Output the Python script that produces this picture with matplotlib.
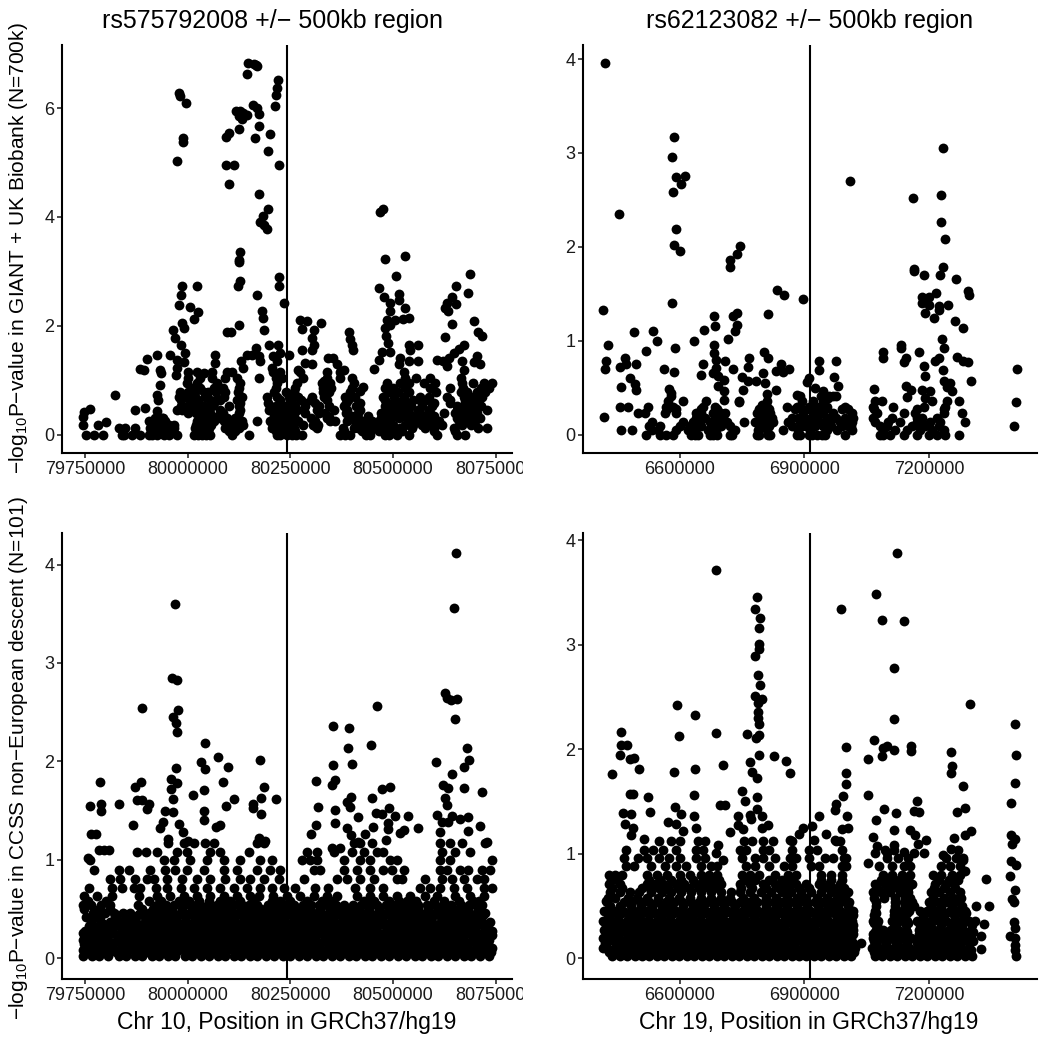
import matplotlib
matplotlib.use("Agg")
import matplotlib.pyplot as plt
from matplotlib.transforms import Bbox

plt.rcParams['font.family'] = ['Liberation Sans', 'DejaVu Sans']
plt.rcParams['mathtext.default'] = 'regular'
plt.rcParams['mathtext.fontset'] = 'custom'
plt.rcParams['mathtext.rm'] = 'Liberation Sans'

# positions in kb, values are -log10 P
titles = ["rs575792008 +/\u2212 500kb region", "rs62123082 +/\u2212 500kb region"]
xlabels = ["Chr 10, Position in GRCh37/hg19", "Chr 19, Position in GRCh37/hg19"]
ylabels = ["\u2212$log_{10}$P\u2212value in GIANT + UK Biobank (N=700k)",
           "\u2212$log_{10}$P\u2212value in CCSS non\u2212European descent (N=101)"]
chr10_ticks = [79750000, 80000000, 80250000, 80500000, 80750000]
chr19_ticks = [6600000, 6900000, 7200000]
chr10_snp = 80243000
chr19_snp = 6914000

a_pts = [(80146,6.83),(80161,6.82),(80170,6.77),(80167,6.80),(80144,6.63),(80221,6.52),(80218,6.37),(80216,6.25),(80213,6.03),
(79978,6.28),(79982,6.22),(79997,6.09),(80118,5.94),(80128,5.94),(80136,5.91),(80124,5.85),(80132,5.80),(80144,5.88),(80159,6.05),
(80170,6.01),(80175,5.90),(80174,5.68),(80126,5.62),(80100,5.55),(80094,5.47),(80165,5.46),(80200,5.52),(80195,5.22),(79989,5.45),
(79989,5.37),(79973,5.02),(80093,4.96),(80114,4.96),(80223,4.96),(80101,4.60),(80175,4.42),(80196,4.15),(80183,4.01),(80177,3.90),
(80185,3.86),(80193,3.77),(80127,3.36),(80126,3.21),(80126,3.17),(80127,2.82),(80123,2.73),(80223,2.89),(80222,2.74),(80168,2.57),
(80234,2.42),(79986,2.74),(80023,2.74),(79983,2.57),(79980,2.39),(80006,2.34),(80026,2.25),(80016,2.12),(80181,2.27),(80184,2.14),
(79986,2.06),(79990,1.96),(79964,1.92),(80126,2.01),(80095,1.89),(80106,1.89),(80187,1.92),(79970,1.78),(79984,1.64),(80167,1.60),
(80199,1.65),(80219,1.64),(80274,2.11),(80291,2.08),(80325,2.06),(80278,1.94),(80307,1.93),(80303,1.78),(80307,1.65),(80278,1.56),
(80303,1.56),(80248,1.47),(80286,1.32),(80303,1.30),(80270,1.18),(80475,4.15),(80469,4.10),(80481,3.23),(80529,3.28),(80507,2.92),
(80687,2.95),(80467,2.69),(80653,2.73),(80684,2.61),(80478,2.53),(80514,2.59),(80516,2.48),(80645,2.53),(80632,2.42),(80654,2.40),
(80494,2.42),(80628,2.33),(80530,2.33),(80494,2.27),(80634,2.27),(80485,2.11),(80505,2.11),(80524,2.12),(80540,2.14),(80494,2.02),
(80481,1.96),(80698,2.09),(80645,2.03),(80708,1.88),(80717,1.82),(80627,1.79),(80484,1.81),(80487,1.68),(80392,1.88),(80396,1.75),
(80400,1.65),(80402,1.56),(80538,1.65),(80562,1.65),(80494,1.51),(80473,1.51),(80672,1.64),(80660,1.57),(80648,1.50),(80636,1.41),
(80705,1.44),(80607,1.38),(80623,1.35),(80631,1.26),(80668,1.35),(80698,1.33),(80711,1.30),(80672,1.19),(80542,1.56),(80518,1.41),
(80514,1.29),(80562,1.35),(80538,1.35),(80465,1.38),(80453,1.21),(80355,1.41),(80343,1.41),(79925,1.47),(79902,1.39),(79883,1.21),
(79893,1.19),(79933,1.19),(79935,1.13),(79932,0.92),(79925,0.73),(79929,0.63),(79822,0.72),(79897,0.49),(79871,0.46),(79763,0.47),
(79747,0.41),(79744,0.32),(79744,0.18),(79781,0.18),(79802,0.23),(80067,1.47),(80067,1.32),(80130,1.35),(80145,1.47),(80157,1.47),
(80173,1.44),(80136,1.22),(80177,1.35),(80209,1.44),(80226,1.50),(80217,1.35),(80205,1.22),(79958,1.47),(79974,1.38),(79994,1.50),
(79990,1.33),(79974,1.22),(79972,1.10),(80039,1.13),(80380,1.19),(80364,1.29),(80331,0.98),(80400,1.04),(80175,1.04),(80428,0.88),
(80420,0.80),(80345,0.32),(80335,0.40),(80310,0.15),(79925,0.43),(79940,0.30),(80075,0.35)]
a_row_y = [0.0, 0.06, 0.12, 0.18, 0.25, 0.30, 0.35, 0.40, 0.46, 0.52, 0.58, 0.64, 0.70, 0.78, 0.85, 0.95, 1.05, 1.15]
a_row_x = [
[79753,79771,79795,79840,79845,79864,79885,79905,79913,79925,79942,79955,79974,80015,80025,80035,80045,80055,80108,80149,80217,80225,80242,80255,80265,80278,80372,80384,80395,80435,80445,80481,80490,80510,80538,80607,80656,80676],
[79910,79930,79948,79962,80022,80030,80050,80100,80115,80215,80232,80248,80262,80380,80425,80445,80465,80500,80522,80600,80650],
[79832,79848,79873,79909,79925,79950,79966,80019,80039,80051,80092,80112,80124,80205,80226,80258,80315,80378,80404,80416,80437,80457,80485,80518,80546,80579,80599,80648,80708,80729],
[79915,79928,79942,79955,79968,80020,80035,80058,80098,80118,80135,80208,80228,80240,80282,80305,80318,80410,80420,80440,80452,80475,80500,80530,80550,80570,80595,80620,80668,80690],
[79905,79917,79933,79946,80023,80047,80063,80088,80104,80120,80132,80169,80201,80217,80250,80270,80311,80347,80360,80388,80408,80429,80449,80465,80489,80542,80558,80583,80611,80660,80684,80700],
[79920,79938,80030,80055,80078,80095,80115,80212,80228,80242,80255,80300,80340,80395,80415,80440,80470,80495,80515,80535,80552,80575,80600,80655,80672,80695,80712],
[80035,80210,80235,80260,80400,80440,80475,80500,80525,80555,80580,80600,80660,80690],
[80000,80020,80055,80085,80125,80218,80240,80260,80285,80320,80385,80415,80470,80492,80515,80540,80565,80590,80625,80650,80680,80705],
[79974,79986,80006,80027,80047,80080,80128,80197,80226,80246,80266,80315,80356,80388,80420,80485,80510,80534,80562,80587,80656,80676,80700,80729],
[79985,80000,80015,80040,80060,80100,80125,80200,80215,80240,80262,80285,80320,80345,80380,80410,80480,80500,80520,80545,80570,80595,80655,80685,80715],
[80025,80065,80128,80195,80225,80255,80285,80310,80385,80420,80485,80510,80535,80570,80600,80640,80675,80700],
[79985,80005,80025,80055,80070,80080,80120,80225,80250,80275,80300,80340,80390,80480,80505,80525,80550,80565,80580,80640,80675,80695,80710],
[79978,79998,80019,80043,80088,80132,80193,80217,80246,80270,80303,80331,80384,80408,80477,80502,80526,80567,80587,80631,80672,80692,80717],
[79982,80002,80018,80040,80050,80070,80090,80122,80210,80240,80260,80330,80345,80395,80490,80512,80540,80605,80665,80680,80705,80725],
[80010,80030,80065,80085,80125,80215,80262,80330,80350,80400,80480,80500,80530,80590,80640,80670,80715,80735],
[79998,80023,80071,80128,80217,80266,80327,80347,80404,80485,80518,80538,80575,80603,80668,80696,80721,80741],
[80000,80030,80060,80090,80120,80215,80230,80280,80340,80370,80530,80555,80590,80665],
[80002,80024,80059,80096,80108,80209,80226,80274,80339,80372,80526],
]

b_pts = [(6419,3.96),(6586,3.17),(6581,2.96),(6592,2.74),(6612,2.75),(6604,2.67),(6583,2.58),(6454,2.35),(6590,2.19),(6585,2.02),
(6600,1.96),(6745,2.01),(6738,1.92),(6721,1.86),(6721,1.79),(7011,2.70),(7162,2.52),(7233,3.05),(7229,2.55),(7229,2.26),(7238,2.08),
(7233,1.79),(7227,1.70),(7163,1.76),(7163,1.74),(7189,1.70),(7265,1.66),(7295,1.53),(7297,1.49),(7217,1.51),(7183,1.47),(7201,1.47),
(7191,1.44),(7183,1.40),(7199,1.38),(7223,1.37),(7245,1.38),(7225,1.33),(7191,1.30),(7211,1.24),(7262,1.21),(7283,1.14),(6833,1.54),
(6851,1.49),(6897,1.44),(6582,1.40),(6416,1.33),(6812,1.29),(6738,1.30),(6727,1.26),(6682,1.26),(6684,1.16),(6737,1.17),(6733,1.10),
(6659,1.11),(6490,1.09),(6536,1.10),(6544,1.00),(6635,1.00),(6717,1.02),(6427,0.96),(6683,0.96),(6588,0.92),(6518,0.89),(6423,0.79),
(6467,0.82),(6419,0.70),(6455,0.72),(6471,0.75),(6494,0.75),(6561,0.70),(6586,0.67),(6656,0.75),(6650,0.64),(6683,0.87),(6687,0.80),
(6709,0.78),(6687,0.71),(6729,0.70),(6680,0.66),(6692,0.62),(6706,0.58),(6692,0.52),(6706,0.46),(6707,0.37),(6767,0.82),(6765,0.72),
(6803,0.88),(6813,0.82),(6843,0.75),(6832,0.68),(6849,0.67),(6864,0.70),(6800,0.66),(6750,0.61),(6764,0.57),(6784,0.57),(6805,0.55),
(6753,0.48),(6809,0.43),(6832,0.48),(6742,0.35),(6797,0.32),(6809,0.30),(6881,0.42),(6934,0.79),(6975,0.79),(6936,0.69),(6972,0.61),
(6980,0.52),(6912,0.60),(6907,0.56),(6926,0.50),(6946,0.47),(6970,0.41),(6958,0.39),(7412,0.70),(7410,0.35),(7405,0.09),(6417,0.19),
(6459,0.51),(6481,0.60),(6491,0.54),(6495,0.48),(6574,0.49),(6579,0.44),(7089,0.88),(7089,0.82),(7133,0.96),(7133,0.92),(7145,0.82),
(7140,0.77),(7177,0.88),(7231,1.02),(7235,0.92),(7225,0.82),(7215,0.78),(7267,0.83),(7282,0.79),(7293,0.77),(7189,0.73),(7234,0.69),
(7191,0.62),(7302,0.57),(7235,0.57),(7251,0.55),(7243,0.51),(7068,0.49),(7145,0.52),(7156,0.48),(7183,0.48),(7203,0.46),(7255,0.46),
(7148,0.40),(7191,0.39)]
b_row_y = [0.0, 0.05, 0.09, 0.14, 0.18, 0.23, 0.27, 0.30, 0.355, 0.41]
b_row_x = [
[6518,6552,6568,6584,6628,6636,6644,6672,6680,6690,6720,6725,6785,6790,6812,6817,6881,6890,6910,6918,6930,6942,6950,6998,7082,7090,7107,7139,7171,7199,7219,7239,7273],
[6459,6486,6532,6548,6592,6620,6636,6668,6688,6733,6789,6809,6848,6885,6914,6954,6978,7014,7090,7119,7147,7179,7207,7235],
[6525,6552,6600,6625,6650,6680,6700,6720,6795,6815,6870,6895,6905,6925,6945,6965,6990,7005,7012,7082,7100,7160,7175,7190,7225],
[6532,6608,6632,6644,6672,6692,6713,6754,6781,6809,6825,6861,6889,6906,6922,6938,6962,6986,7014,7070,7102,7131,7171,7203,7227,7287],
[6640,6660,6685,6705,6795,6805,6822,6870,6885,6900,6915,6930,6955,6975,6998,7018,7065,7110,7170,7182,7220],
[6500,6516,6564,6592,6640,6650,6680,6700,6709,6785,6805,6817,6897,6922,6946,6970,7014,7074,7139,7167,7235,7279],
[6570,6590,6650,6690,6790,6800,6815,6878,6895,6912,6930,6950,6990,7005,7068,7170,7235],
[6455,6475,6524,6568,6584,6656,6684,6797,6857,6881,6910,6934,6954,6998,7066,7113,7187,7239],
[6572,6608,6664,6743,6809,6895,6920,6945,7070,7086,7207,7243,7273],
[6580,6890,6940,6960,6975],
]

c_pts = [(80653,4.12),(80649,3.56),(79969,3.60),(79962,2.85),(79974,2.83),(79890,2.54),(79976,2.52),(79964,2.45),(79972,2.39),(79974,2.30),
(80626,2.69),(80632,2.64),(80642,2.62),(80657,2.63),(80651,2.43),(80461,2.56),(80353,2.36),(80392,2.34),(80446,2.17),(80391,2.14),
(80043,2.19),(80075,2.04),(80032,1.99),(80043,1.92),(80099,1.94),(80176,2.01),(79971,1.93),(79960,1.82),(79974,1.78),(79960,1.72),
(79964,1.62),(79787,1.79),(79886,1.79),(79872,1.74),(79877,1.61),(79889,1.61),(79905,1.57),(79901,1.52),(79761,1.55),(79789,1.57),
(79789,1.50),(79834,1.57),(79867,1.35),(79946,1.50),(79964,1.49),(79940,1.38),(79933,1.32),(79978,1.36),(79989,1.28),(79952,1.21),
(80002,1.19),(80013,1.66),(80041,1.71),(80085,1.79),(80114,1.62),(80093,1.55),(80041,1.50),(80039,1.41),(80080,1.35),(80070,1.33),
(80185,1.74),(80179,1.63),(80159,1.57),(80158,1.53),(80178,1.47),(80215,1.62),(80173,1.22),(80188,1.19),(80354,1.96),(80400,1.97),
(80680,2.14),(80685,2.01),(80674,1.94),(80604,1.99),(80312,1.80),(80360,1.81),(80351,1.76),(80644,1.87),(80623,1.76),(80635,1.73),
(80473,1.72),(80492,1.74),(80672,1.73),(80718,1.69),(80398,1.64),(80388,1.59),(80450,1.63),(80396,1.54),(80317,1.54),(80358,1.51),
(80626,1.63),(80632,1.56),(80416,1.44),(80459,1.48),(80491,1.53),(80474,1.47),(80505,1.45),(80537,1.45),(80607,1.46),(80645,1.45),
(80684,1.44),(80664,1.42),(80360,1.37),(80313,1.35),(80301,1.26),(80388,1.32),(80398,1.25),(80451,1.33),(80487,1.37),(80489,1.31),
(80560,1.32),(80526,1.30),(80518,1.27),(80713,1.34),(80619,1.38),(80635,1.38),(80684,1.29),(80614,1.28),(80730,1.18),(80433,1.26),
(80482,1.20),(80416,1.18),(80351,1.12),(80372,1.12),(79783,1.10),(79796,1.10),(79808,1.10),(79765,1.26),(79777,1.26),(79758,1.02)]
c_row_y = [0.02, 0.06, 0.08, 0.10, 0.15, 0.17, 0.19, 0.24, 0.26, 0.28, 0.33, 0.35, 0.37, 0.42, 0.44, 0.46, 0.50, 0.54, 0.58, 0.63, 0.71, 0.81, 0.90, 1.0, 1.08, 1.17]
c_row_x = [
[79745,79768,79785,79806,79832,79850,79872,79890,79912,79930,79952,79970,79993,80010,80032,80051,80073,80090,80112,80131,80153,80170,80192,80210,80232,80250,80272,80291,80313,80330,80352,80371,80393,80410,80432,80450,80472,80490,80512,80531,80553,80570,80592,80610,80632,80650,80672,80691,80713,80735],
[79756,79779,79803,79826,79851,79875,79899,79922,79947,79971,79996,80019,80043,80067,80092,80115,80139,80164,80187,80212,80236,80259,80283,80308,80332,80355,80380,80403,80428,80451,80476,80499,80523,80548,80571,80596,80619,80644,80667,80692,80716,80739],
[79746,79765,79788,79810,79836,79856,79886,79906,79927,79955,79977,80005,80026,80047,80076,80097,80125,80147,80174,80196,80217,80246,80267,80295,80316,80345,80366,80387,80415,80436,80465,80486,80507,80536,80557,80585,80606,80635,80656,80677,80707,80728],
[79752,79775,79796,79815,79841,79860,79880,79901,79921,79941,79961,79982,80001,80021,80041,80062,80082,80101,80121,80142,80161,80181,80201,80221,80241,80261,80282,80302,80321,80341,80361,80382,80401,80421,80441,80461,80481,80501,80521,80542,80561,80581,80601,80621,80641,80661,80681,80702,80722,80742],
[79748,79771,79794,79819,79843,79867,79891,79916,79939,79964,79987,80012,80035,80060,80083,80108,80131,80156,80179,80204,80227,80252,80275,80300,80323,80348,80371,80396,80419,80444,80467,80492,80515,80540,80563,80588,80611,80636,80659,80684,80707,80732],
[79758,79782,79802,79824,79846,79858,79883,79906,79928,79957,79977,80004,80026,80049,80075,80097,80124,80146,80168,80197,80218,80243,80267,80292,80315,80339,80364,80388,80413,80434,80459,80483,80506,80531,80555,80579,80603,80627,80650,80676,80699,80724],
[79744,79764,79786,79807,79830,79851,79870,79892,79911,79932,79951,79972,79991,80012,80031,80052,80071,80092,80111,80132,80151,80172,80191,80212,80231,80252,80271,80292,80311,80332,80351,80372,80391,80412,80431,80452,80471,80492,80511,80532,80551,80572,80591,80612,80631,80652,80671,80692,80711,80733],
[79755,79780,79805,79828,79853,79876,79901,79925,79949,79973,79997,80021,80045,80069,80093,80117,80141,80165,80189,80213,80237,80261,80285,80309,80333,80357,80381,80405,80429,80453,80477,80501,80525,80549,80573,80597,80621,80645,80669,80693,80717,80741],
[79746,79770,79791,79817,79838,79865,79888,79912,79936,79960,79984,80008,80032,80056,80080,80104,80128,80152,80176,80200,80224,80248,80272,80296,80320,80344,80368,80392,80416,80440,80464,80488,80512,80536,80560,80584,80608,80632,80656,80680,80704,80728],
[79750,79772,79795,79816,79842,79861,79881,79902,79922,79942,79962,79981,80002,80022,80042,80061,80081,80102,80122,80141,80162,80182,80202,80222,80242,80262,80281,80301,80322,80342,80362,80381,80402,80422,80442,80462,80482,80502,80522,80541,80562,80582,80602,80622,80642,80662,80682,80701,80721,80741],
[79760,79785,79809,79833,79857,79883,79907,79931,79955,79979,80003,80027,80051,80075,80099,80123,80147,80171,80195,80219,80243,80267,80291,80315,80339,80363,80387,80411,80435,80459,80483,80507,80531,80555,80579,80603,80627,80651,80675,80699,80723],
[79768,79795,79820,79846,79872,79894,79918,79944,79966,79988,80012,80040,80062,80088,80110,80136,80158,80182,80208,80230,80254,80278,80302,80326,80348,80372,80398,80422,80446,80470,80494,80518,80542,80566,80590,80614,80638,80662,80686,80710,80732],
[79765,79790,79812,79835,79856,79875,79895,79915,79935,79955,79975,79996,80015,80035,80056,80076,80095,80115,80135,80155,80176,80195,80215,80236,80256,80275,80295,80316,80336,80356,80375,80396,80416,80436,80456,80475,80495,80516,80535,80556,80576,80595,80616,80636,80656,80676,80696,80716,80736],
[79752,79777,79824,79849,79873,79897,79921,79945,79969,79993,80017,80041,80065,80089,80113,80137,80161,80185,80209,80233,80257,80281,80305,80329,80353,80377,80401,80425,80449,80473,80497,80521,80545,80569,80593,80617,80641,80665,80689,80713],
[79772,79790,79828,79855,79880,79903,79928,79952,79976,80000,80024,80048,80072,80096,80120,80144,80168,80192,80216,80240,80264,80288,80312,80336,80360,80384,80408,80432,80456,80480,80504,80528,80552,80576,80600,80624,80648,80672,80696,80720],
[79770,79798,79820,79842,79860,79884,79905,79925,79945,79965,79985,80005,80025,80045,80065,80085,80105,80125,80145,80165,80185,80205,80225,80245,80265,80285,80305,80325,80345,80365,80385,80405,80425,80445,80465,80485,80505,80525,80545,80565,80585,80605,80625,80645,80665,80685,80705,80725],
[79748,79785,79812,79890,79915,79938,79962,79986,80010,80034,80058,80082,80106,80130,80154,80178,80202,80226,80250,80274,80298,80322,80346,80370,80394,80418,80442,80466,80490,80514,80538,80562,80586,80610,80634,80658,80682,80706],
[79745,79765,79790,79810,79880,79925,79948,79968,79990,80010,80030,80050,80072,80092,80112,80132,80150,80170,80195,80215,80238,80258,80280,80300,80320,80340,80362,80382,80402,80422,80442,80462,80482,80502,80522,80542,80562,80582,80602,80622,80642,80665,80685,80702,80718],
[79758,79800,79905,79935,79978,80003,80028,80052,80078,80102,80127,80160,80205,80226,80250,80290,80328,80352,80430,80455,80490,80515,80535,80555,80600,80625,80660,80695,80710],
[79747,79779,79816,79881,79925,79958,79990,80023,80055,80088,80120,80153,80173,80209,80242,80274,80307,80339,80364,80412,80445,80477,80510,80542,80579,80607,80652,80688,80721],
[79759,79816,79841,79869,79885,79922,79950,79983,80015,80047,80080,80112,80145,80177,80205,80234,80262,80311,80343,80408,80445,80477,80566,80590,80615,80648,80680,80721,80741],
[79812,79836,79873,79901,79917,79950,79986,80023,80055,80092,80128,80153,80185,80222,80283,80364,80388,80420,80453,80510,80522,80579,80619,80644,80672,80705,80721],
[79772,79832,79858,79908,79945,79970,79998,80039,80088,80120,80169,80201,80226,80307,80323,80380,80412,80445,80477,80497,80526,80615,80631,80664,80684,80717,80737],
[79761,79942,79966,80006,80047,80088,80128,80177,80205,80278,80299,80315,80380,80420,80445,80493,80510,80615,80640,80741],
[79877,79899,79925,79974,79998,80055,80080,80149,80291,80315,80356,80400,80429,80461,80477,80619,80652,80688],
[79952,79990,80015,80043,80063,80169,80185,80404,80420,80449,80615,80640,80668,80725],
]

d_pts = [(7122,3.88),(6686,3.72),(7072,3.49),(6787,3.46),(6989,3.34),(6780,3.34),(6793,3.26),(7088,3.24),(7141,3.23),(6790,3.16),(6790,3.01),
(6790,2.96),(6781,2.89),(7116,2.78),(6789,2.71),(6793,2.62),(6782,2.51),(6797,2.48),(6789,2.44),(7299,2.43),(6594,2.42),(6637,2.33),
(6789,2.36),(6789,2.30),(7115,2.29),(6791,2.24),(7406,2.24),(6459,2.17),(6686,2.16),(6761,2.15),(6598,2.13),(6790,2.14),(6783,2.11),
(6459,2.04),(6474,2.04),(7067,2.09),(7098,2.03),(7090,2.01),(7000,2.02),(7156,2.03),(7156,1.98),(7253,1.97),(7115,1.99),(6457,1.95),
(6790,1.95),(7410,1.95),(7086,1.94),(6490,1.92),(6479,1.91),(7054,1.91),(6828,1.94),(6856,1.89),(6769,1.88),(6502,1.81),(6636,1.81),
(6586,1.78),(6705,1.85),(7256,1.84),(7253,1.77),(6437,1.76),(6773,1.78),(6865,1.77),(6787,1.73),(7000,1.77),(6999,1.67),(7407,1.68),
(7283,1.65),(6750,1.60),(6479,1.57),(6487,1.57),(6634,1.56),(6524,1.54),(6757,1.51),(6787,1.54),(6994,1.55),(7054,1.56),(7172,1.51),
(7398,1.49),(6696,1.47),(6708,1.47),(6976,1.48),(6974,1.42),(7092,1.43),(7287,1.44),(6588,1.45),(6463,1.39),(6483,1.38),(6528,1.40),
(6785,1.43),(6770,1.37),(6604,1.38),(6634,1.36),(6739,1.36),(6934,1.36),(7002,1.36),(7120,1.39),(7164,1.41),(7175,1.40),(7267,1.40),
(6799,1.36),(7073,1.32),(6467,1.29),(6572,1.30),(6592,1.29),(6771,1.33),(6741,1.28),(6813,1.28),(6919,1.27),(6897,1.25),(7006,1.25),
(6990,1.24),(6487,1.25),(6753,1.24),(6799,1.25),(6639,1.25),(7115,1.23),(7155,1.23),(7301,1.22),(6608,1.22),(6721,1.21),(6888,1.19),
(6951,1.19),(6483,1.18),(7167,1.18),(7287,1.18),(7398,1.18),(7065,1.16),(6513,1.14),(7261,1.15),(7193,1.13),(7406,1.14),(6974,1.13),
(6865,1.13),(6922,1.13),(7400,1.09),(6691,1.08),(7115,1.08),(7173,1.09),(7074,1.07),(7254,1.05),(7139,1.02),(7163,1.01),(7187,1.01),
(6688,1.01),(7070,1.01),(7234,0.99),(7098,1.01),(7398,0.93),(7409,0.89),(7053,0.91),(7283,0.94),(7287,0.84),(6703,0.94),(7396,0.79),
(7338,0.76),(7408,0.65),(7400,0.57),(7404,0.54),(7312,0.50),(7344,0.50),(7332,0.33),(7324,0.21),(7326,0.09),(7036,0.15),(7405,0.35),
(7406,0.29),(7394,0.21),(7406,0.19),(7406,0.13),(7407,0.08),(7409,0.02),(6415,0.10),(6423,0.55)]
d_row_y = [0.02, 0.06, 0.08, 0.10, 0.15, 0.17, 0.19, 0.23, 0.25, 0.27, 0.32, 0.34, 0.36, 0.41, 0.43, 0.45, 0.50, 0.54, 0.58, 0.63, 0.67, 0.71, 0.75, 0.80, 0.88, 0.96, 1.04, 1.12]
d_row_x = [
[6437,6455,6473,6491,6509,6527,6545,6563,6581,6599,6617,6635,6653,6671,6689,6707,6725,6743,6761,6779,6797,6815,6833,6851,6869,6887,6905,6923,6941,6959,6977,6995,7013,7070,7088,7106,7124,7142,7160,7178,7196,7214,7232,7250,7268,7286,7304],
[6430,6452,6478,6503,6528,6553,6578,6603,6628,6653,6678,6703,6728,6753,6778,6803,6828,6853,6878,6903,6928,6953,6978,7003,7020,7067,7092,7117,7142,7167,7192,7217,7242,7267,7292],
[6434,6458,6484,6511,6535,6559,6584,6611,6635,6659,6684,6711,6735,6759,6784,6811,6835,6859,6884,6911,6935,6959,6984,7010,7075,7100,7128,7150,7175,7200,7225,7250,7275,7300],
[6424,6444,6462,6480,6500,6518,6536,6554,6572,6590,6608,6626,6644,6662,6680,6698,6716,6734,6752,6770,6788,6806,6824,6842,6860,6878,6896,6914,6932,6950,6968,6986,7004,7022,7062,7080,7098,7116,7134,7152,7170,7188,7206,7224,7242,7260,7278,7296],
[6421,6447,6471,6496,6521,6546,6571,6596,6621,6646,6671,6696,6721,6746,6771,6796,6821,6846,6871,6896,6921,6946,6971,6996,7018,7072,7097,7122,7147,7172,7197,7222,7247,7272,7297],
[6428,6456,6480,6506,6530,6556,6580,6606,6630,6656,6680,6706,6730,6756,6780,6806,6830,6856,6880,6906,6930,6956,6980,7006,7068,7094,7118,7144,7180,7204,7230,7254,7280,7305],
[6416,6434,6452,6472,6490,6508,6526,6544,6562,6580,6598,6616,6634,6652,6670,6688,6706,6724,6742,6760,6778,6796,6814,6832,6850,6868,6886,6904,6922,6940,6958,6976,6994,7012,7066,7084,7102,7120,7138,7156,7174,7192,7210,7228,7246,7264,7282,7300],
[6426,6450,6475,6500,6525,6550,6575,6600,6625,6650,6675,6700,6725,6750,6775,6800,6825,6850,6875,6900,6925,6950,6975,7000,7016,7064,7090,7115,7140,7176,7201,7226,7251,7276,7301],
[6432,6459,6485,6510,6534,6560,6585,6610,6634,6660,6685,6710,6734,6760,6785,6810,6834,6860,6885,6910,6934,6960,6985,7012,7070,7096,7122,7148,7184,7208,7234,7258,7284,7306],
[6418,6440,6458,6476,6494,6512,6530,6548,6566,6584,6602,6620,6638,6656,6674,6692,6710,6728,6746,6764,6782,6800,6818,6836,6854,6872,6890,6908,6926,6944,6962,6980,6998,7018,7072,7090,7108,7126,7144,7175,7193,7211,7229,7247,7265,7283,7301],
[6423,6448,6473,6498,6523,6548,6573,6598,6623,6648,6673,6698,6723,6748,6773,6798,6823,6848,6873,6898,6923,6948,6973,6998,7016,7075,7120,7145,7178,7203,7228,7253,7278,7303],
[6430,6456,6482,6506,6530,6556,6582,6606,6630,6656,6682,6706,6730,6756,6782,6806,6830,6856,6882,6906,6930,6956,6982,7008,7068,7116,7150,7182,7206,7232,7256,7282,7300],
[6416,6436,6454,6472,6490,6508,6526,6544,6562,6580,6598,6616,6634,6652,6670,6688,6706,6724,6742,6760,6778,6796,6814,6832,6850,6868,6886,6904,6922,6940,6958,6976,6994,7014,7066,7078,7110,7128,7146,7170,7188,7206,7224,7242,7260,7278,7296,7310],
[6427,6452,6477,6502,6527,6552,6577,6602,6627,6652,6677,6702,6727,6752,6777,6802,6827,6852,6877,6902,6927,6952,6977,7002,7016,7068,7115,7140,7185,7210,7235,7260,7285],
[6434,6460,6486,6510,6536,6560,6586,6610,6636,6660,6686,6710,6736,6760,6786,6810,6836,6860,6886,6910,6936,6960,6986,7010,7072,7122,7148,7192,7216,7242,7268,7290],
[6418,6446,6464,6482,6500,6518,6536,6554,6572,6590,6608,6626,6644,6662,6680,6698,6716,6734,6752,6770,6788,6806,6824,6842,6860,6878,6896,6914,6932,6950,6968,6986,7004,7018,7070,7116,7134,7152,7178,7196,7214,7232,7250,7268,7286],
[6432,6457,6482,6507,6532,6557,6582,6607,6632,6657,6682,6707,6732,6757,6782,6807,6832,6857,6882,6907,6932,6957,6982,7005,7072,7118,7143,7165,7205,7230,7255,7280],
[6425,6466,6486,6506,6526,6546,6566,6586,6606,6626,6646,6666,6686,6706,6726,6746,6766,6786,6806,6826,6846,6866,6886,6906,6926,6946,6966,6986,7008,7072,7118,7140,7160,7200,7222,7240,7262],
[6428,6445,6475,6498,6520,6548,6573,6598,6625,6650,6675,6700,6722,6752,6778,6808,6832,6858,6882,6905,6930,6955,6978,6998,7068,7092,7118,7142,7155,7210,7235,7258,7278],
[6431,6455,6480,6503,6531,6556,6580,6604,6628,6652,6676,6700,6724,6745,6770,6795,6820,6845,6868,6892,6916,6940,6965,6985,7005,7065,7085,7105,7130,7150,7205,7225,7250,7275],
[6436,6460,6510,6528,6550,6572,6596,6622,6646,6670,6692,6748,6775,6808,6838,6862,6888,6912,6945,6970,6995,7075,7102,7125,7150,7212,7235,7262],
[6430,6455,6520,6540,6560,6590,6610,6640,6660,6680,6700,6745,6770,6800,6830,6855,6880,6905,6935,6960,6985,7070,7095,7115,7140,7160,7215,7240,7260],
[6435,6450,6525,6552,6578,6602,6632,6655,6678,6695,6755,6780,6815,6845,6870,6940,6965,6990,7085,7105,7128,7150,7225,7248,7270],
[6430,6445,6460,6520,6545,6570,6600,6625,6650,6670,6690,6750,6770,6790,6830,6860,6880,6940,6965,6990,7090,7110,7135,7155,7210,7230,7255,7275],
[6470,6490,6530,6565,6590,6615,6650,6675,6690,6760,6780,6815,6850,6870,6915,6935,6990,7000,7080,7110,7140,7155,7230,7250,7275],
[6465,6500,6520,6550,6575,6600,6640,6660,6750,6780,6800,6830,6865,6880,6910,6950,6970,6995,7000,7100,7125,7150,7240,7265,7282],
[6470,6515,6535,6560,6590,6640,6655,6745,6760,6800,6815,6870,6910,6930,6990,7095,7115,7270],
[6550,6580,6600,6645,6660,6755,6775,6800,6825,6870,6975,6985],
]


def collect(pts, row_y, row_x):
    xs = [p[0] * 1000 for p in pts]
    ys = [p[1] for p in pts]
    for y, row in zip(row_y, row_x):
        xs += [v * 1000 for v in row]
        ys += [y] * len(row)
    return xs, ys


W, H = 1044, 1043
fig = plt.figure(figsize=(W / 100, H / 100), dpi=100)


def panel(left, right, top, bottom, pts, row_y, row_x, snp, xticks, yticks, xlim, ylim):
    ax = fig.add_axes([left / W, 1 - bottom / H, (right - left) / W, (bottom - top) / H])
    xs, ys = collect(pts, row_y, row_x)
    ax.scatter(xs, ys, s=50, color="black", linewidths=0, zorder=2)
    ax.axvline(snp, color="black", linewidth=1.5, zorder=3)
    ax.set_xlim(xlim)
    ax.set_ylim(ylim)
    ax.set_xticks(xticks)
    ax.set_xticklabels([str(t) for t in xticks])
    ax.set_yticks(yticks)
    ax.spines["top"].set_visible(False)
    ax.spines["right"].set_visible(False)
    ax.spines["left"].set_linewidth(1.5)
    ax.spines["bottom"].set_linewidth(1.5)
    ax.tick_params(length=3.5, width=1.1, labelsize=13, colors="#1a1a1a", pad=2)
    return ax


ax_a = panel(62, 512, 45, 453, a_pts, a_row_y, a_row_x, chr10_snp, chr10_ticks, [0, 2, 4, 6],
             (79694000, 80790000), (-0.337, 7.16))
ax_b = panel(583, 1037, 45, 453, b_pts, b_row_y, b_row_x, chr19_snp, chr19_ticks, [0, 1, 2, 3, 4],
             (6367000, 7460000), (-0.195, 4.15))
ax_c = panel(62, 512, 533, 979, c_pts, c_row_y, c_row_x, chr10_snp, chr10_ticks, [0, 1, 2, 3, 4],
             (79694000, 80790000), (-0.21, 4.32))
ax_d = panel(583, 1037, 533, 979, d_pts, d_row_y, d_row_x, chr19_snp, chr19_ticks, [0, 1, 2, 3, 4],
             (6367000, 7460000), (-0.198, 4.07))

# the left column tick labels get cut off at the edge of the plot cell
for ax in (ax_a, ax_c):
    for lab in ax.get_xticklabels():
        lab.set_clip_box(Bbox([[0, 0], [523, H]]))
        lab.set_clip_on(True)

fig.text(273 / W, 1 - 21 / H, titles[0], ha="center", va="center", fontsize=18)
fig.text(810 / W, 1 - 21 / H, titles[1], ha="center", va="center", fontsize=18)
fig.text(287 / W, 1 - 1022 / H, xlabels[0], ha="center", va="center", fontsize=16.5)
fig.text(809 / W, 1 - 1022 / H, xlabels[1], ha="center", va="center", fontsize=16.5)
fig.text(19 / W, 1 - 248 / H, ylabels[0], rotation=90, ha="center", va="center", fontsize=15)
fig.text(19 / W, 1 - 758 / H, ylabels[1], rotation=90, ha="center", va="center", fontsize=15)

fig.savefig("out.png", dpi=100)
